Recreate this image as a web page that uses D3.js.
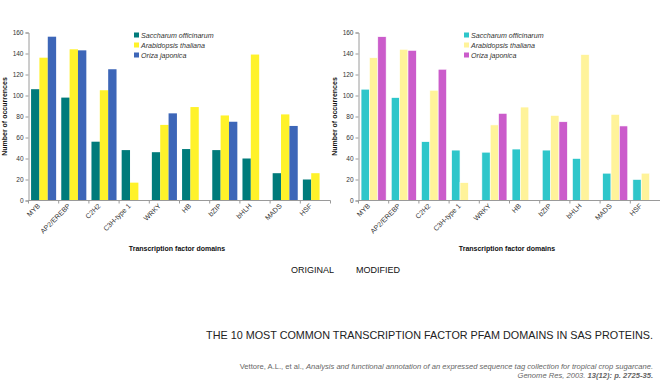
<!DOCTYPE html>
<html>
<head>
<meta charset="utf-8">
<script src="https://cdn.jsdelivr.net/npm/d3@7"></script>
<style>
  body { margin: 0; background: #fff; }
  svg { display: block; font-family: Arial, "Liberation Sans", sans-serif; }
</style>
</head>
<body>
<svg id="chart"></svg>
<script>
const W = 660, H = 383;

const domains = ['MYB', 'AP2/EREBP', 'C2H2', 'C3H-type 1', 'WRKY', 'HB', 'bZIP', 'bHLH', 'MADS', 'HSF'];
const species = ['Saccharum officinarum', 'Arabidopsis thaliana', 'Oriza japonica'];
const saccharum = [106, 98, 56, 48, 46, 49, 48, 40, 26, 20];
const arabidopsis = [136, 144, 105, 17, 72, 89, 81, 139, 82, 26];
const oriza = [156, 143, 125, 0, 83, 0, 75, 0, 71, 0];
const yTicks = [0, 20, 40, 60, 80, 100, 120, 140, 160];

const colorsOriginal = ['#007b7b', '#fff22a', '#3d66b8'];
const colorsModified = ['#2ec6ca', '#fff39a', '#cb5ccb'];

const seriesValues = [saccharum, arabidopsis, oriza];

const svg = d3.select('#chart').attr('width', W).attr('height', H);

function drawPanel(offsetX, colors, gapStroke) {
    const left = offsetX + 28.5, right = offsetX + 330.5;
    const top = 32.5, bottom = 200.5;

    const g = svg.append('g');

    const x = d3.scaleBand()
        .domain(domains)
        .range([left, right])
        .paddingInner(0.17)
        .paddingOuter(0.085);
    const xs = d3.scaleBand()
        .domain(species)
        .range([0, x.bandwidth()]);
    const y = d3.scaleLinear()
        .domain([0, 160])
        .range([bottom, top]);

    // bars
    domains.forEach((d, i) => {
        species.forEach((s, j) => {
            const v = seriesValues[j][i];
            if (!v) return;
            g.append('rect')
                .attr('x', x(d) + xs(s))
                .attr('y', y(v))
                .attr('width', xs.bandwidth())
                .attr('height', y(0) - y(v))
                .attr('fill', colors[j])
                .attr('stroke', gapStroke)
                .attr('stroke-width', 0.6);
        });
    });

    // y axis
    const yAxis = d3.axisLeft(y).tickValues(yTicks).tickSize(3).tickPadding(2);
    const ya = g.append('g')
        .attr('transform', `translate(${left},0)`)
        .call(yAxis);
    ya.select('.domain').attr('stroke', '#9a9a9a');
    ya.selectAll('.tick line').attr('stroke', '#9a9a9a');
    ya.selectAll('text').attr('font-size', 6.5).attr('fill', '#333').attr('font-family', 'Arial, "Liberation Sans", sans-serif');

    // x axis line + ticks at category boundaries
    g.append('line')
        .attr('x1', left).attr('x2', right)
        .attr('y1', bottom).attr('y2', bottom)
        .attr('stroke', '#9a9a9a');
    const half = x.step() * x.paddingInner() / 2;
    domains.forEach(d => {
        const bx = x(d) - half;
        g.append('line')
            .attr('x1', bx).attr('x2', bx)
            .attr('y1', bottom).attr('y2', bottom + 3)
            .attr('stroke', '#9a9a9a');
    });
    g.append('line')
        .attr('x1', right).attr('x2', right)
        .attr('y1', bottom).attr('y2', bottom + 3)
        .attr('stroke', '#9a9a9a');

    // rotated category labels
    domains.forEach(d => {
        const cx = x(d) + x.bandwidth() / 2 - 3;
        g.append('text')
            .attr('transform', `translate(${cx},${bottom + 6}) rotate(-45)`)
            .attr('text-anchor', 'end')
            .attr('font-size', 7)
            .attr('fill', '#333')
            .text(d);
    });

    // axis titles
    g.append('text')
        .attr('transform', `translate(${offsetX + 6.5},${(top + bottom) / 2}) rotate(-90)`)
        .attr('text-anchor', 'middle')
        .attr('font-size', 7)
        .attr('font-weight', 'bold')
        .attr('fill', '#111')
        .text('Number of occurrences');
    g.append('text')
        .attr('x', offsetX + 177)
        .attr('y', 250.5)
        .attr('text-anchor', 'middle')
        .attr('font-size', 7)
        .attr('font-weight', 'bold')
        .attr('fill', '#111')
        .text('Transcription factor domains');

    // legend
    species.forEach((s, j) => {
        const ly = 35 + j * 10;
        g.append('rect')
            .attr('x', offsetX + 134).attr('y', ly - 2.5)
            .attr('width', 5).attr('height', 5)
            .attr('fill', colors[j]);
        g.append('text')
            .attr('x', offsetX + 141).attr('y', ly + 2.6)
            .attr('font-size', 7.1)
            .attr('font-style', 'italic')
            .attr('fill', '#333')
            .text(s);
    });
}

drawPanel(0, colorsOriginal, 'none');
drawPanel(330, colorsModified, '#fff');

// panel captions
svg.append('text')
    .attr('x', 291).attr('y', 272.5)
    .attr('font-size', 9).attr('fill', '#111')
    .text('ORIGINAL');
svg.append('text')
    .attr('x', 356).attr('y', 272.5)
    .attr('font-size', 9).attr('fill', '#111')
    .text('MODIFIED');

// title
svg.append('text')
    .attr('x', 653).attr('y', 339)
    .attr('text-anchor', 'end')
    .attr('font-size', 10.8).attr('fill', '#222')
    .text('THE 10 MOST COMMON TRANSCRIPTION FACTOR PFAM DOMAINS IN SAS PROTEINS.');

// citation
const cite1 = svg.append('text')
    .attr('x', 653).attr('y', 369)
    .attr('text-anchor', 'end')
    .attr('font-size', 7.6).attr('fill', '#666');
cite1.append('tspan').text('Vettore, A.L., et al., ');
cite1.append('tspan').attr('font-style', 'italic')
    .text('Analysis and functional annotation of an expressed sequence tag collection for tropical crop sugarcane.');

const cite2 = svg.append('text')
    .attr('x', 653).attr('y', 378)
    .attr('text-anchor', 'end')
    .attr('font-size', 7.6).attr('fill', '#666');
cite2.append('tspan').attr('font-style', 'italic').text('Genome Res, 2003. ');
cite2.append('tspan').attr('font-style', 'italic').attr('font-weight', 'bold').text('13(12): p. 2725-35.');
</script>
</body>
</html>
